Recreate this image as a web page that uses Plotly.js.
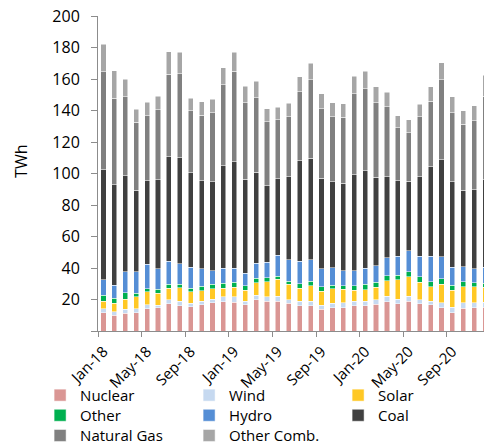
<!DOCTYPE html>
<html>
<head>
<meta charset="utf-8">
<script src="https://cdn.plot.ly/plotly-3.0.1.min.js"></script>
<style>html,body{margin:0;padding:0;background:#fff;overflow:hidden;}</style>
</head>
<body>
<div id="chart" style="width:484px;height:460px;"></div>
<script>
const months = ["Jan-18","Feb-18","Mar-18","Apr-18","May-18","Jun-18","Jul-18","Aug-18","Sep-18","Oct-18","Nov-18","Dec-18",
"Jan-19","Feb-19","Mar-19","Apr-19","May-19","Jun-19","Jul-19","Aug-19","Sep-19","Oct-19","Nov-19","Dec-19",
"Jan-20","Feb-20","Mar-20","Apr-20","May-20","Jun-20","Jul-20","Aug-20","Sep-20","Oct-20","Nov-20","Dec-20"];

const nuclear = [11.6,9.9,11.2,11.6,14.2,14.8,17.4,16.1,15.4,16.7,18.0,18.6,18.4,16.7,19.9,19.0,19.0,17.6,16.1,16.1,13.8,14.8,14.8,15.9,16.1,16.9,18.6,17.4,18.8,17.4,16.7,14.8,11.6,14.6,14.8,15.0];
const wind = [2.6,2.4,2.6,2.4,2.5,1.7,2.3,2.9,2.2,2.1,2.3,3.0,3.2,2.1,2.7,2.6,3.2,2.1,2.7,2.7,2.5,2.8,3.0,2.9,2.9,3.0,3.4,2.9,3.2,2.5,2.1,3.2,3.4,3.2,3.2,3.4];
const solar = [4.8,5.3,6.5,7.8,8.1,7.6,7.4,8.5,7.2,6.8,6.4,5.5,6.3,7.0,7.9,9.7,10.8,9.9,8.3,10.0,9.1,9.1,8.7,7.2,7.2,8.0,10.0,12.1,12.3,11.2,9.3,11.8,11.0,10.3,10.1,9.3];
const other = [3.6,3.1,4.0,2.1,2.1,2.4,2.5,2.3,2.3,2.8,2.9,3.2,3.2,3.0,2.9,2.6,1.9,2.1,3.0,2.9,2.7,2.5,2.3,2.8,3.4,3.2,3.1,2.9,3.2,3.4,3.2,3.4,3.2,3.2,2.6,2.6];
const hydro = [9.8,8.5,13.2,13.8,15.6,13.1,14.8,13.0,13.5,11.0,8.5,9.7,8.9,8.0,9.6,9.9,13.1,13.4,14.3,13.4,11.5,11.0,9.5,9.5,10.4,10.2,11.5,12.3,13.3,13.1,16.3,14.0,11.2,9.5,8.7,10.1];
const coal = [70.0,63.7,61.1,51.8,52.9,56.3,66.3,67.3,59.9,56.0,56.7,64.8,67.5,59.7,57.7,48.5,48.7,52.9,63.7,64.5,57.5,54.6,55.5,61.0,61.8,56.3,51.4,47.8,44.4,50.4,56.7,61.4,54.4,48.7,50.3,55.5];
const naturalGas = [62.3,54.8,50.0,43.2,41.3,44.6,52.3,53.3,39.2,41.7,43.8,51.6,57.4,48.5,47.4,40.6,37.5,38.1,43.9,49.8,44.1,41.3,41.9,51.4,52.1,47.4,44.4,33.7,30.7,37.9,41.5,50.8,43.8,41.7,43.8,53.3];
const otherComb = [17.5,17.4,11.2,8.0,8.5,8.7,14.4,13.5,8.0,8.3,8.5,10.8,12.2,10.3,10.4,8.3,7.8,8.5,9.3,10.5,9.5,8.9,8.6,11.2,11.0,10.1,9.3,7.6,8.1,8.0,9.3,11.0,10.2,8.7,9.6,13.3];

const seriesNames = ["Nuclear","Wind","Solar","Other","Hydro","Coal","Natural Gas","Other Comb."];
const yTickVals = [0,20,40,60,80,100,120,140,160,180,200];
const yTickText = ["","20","40","60","80","100","120","140","160","180","200"];
const xLabelMonths = ["Jan-18","May-18","Sep-18","Jan-19","May-19","Sep-19","Jan-20","May-20","Sep-20"];
const yTitle = "TWh";

const seriesValues = [nuclear, wind, solar, other, hydro, coal, naturalGas, otherComb];
const colors = ["#DA9694","#C6D9F0","#FFC825","#00B050","#558ED5","#404040","#808080","#A6A6A6"];
// one horizontal legend per row: row1 Nuclear/Wind/Solar, row2 Other/Hydro/Coal, row3 Natural Gas/Other Comb.
const legendOf = ["legend","legend","legend","legend2","legend2","legend2","legend3","legend3"];

const xIdx = months.map((m, i) => i);
const traces = seriesValues.map((vals, k) => ({
  type: "bar",
  name: seriesNames[k],
  x: xIdx,
  y: vals,
  marker: {color: colors[k], line: {color: "#ffffff", width: 0.5}},
  legend: legendOf[k],
  hoverinfo: "skip"
}));

const FONT = "'Open Sans', 'Liberation Sans', Arial, sans-serif";
const labelIdx = xLabelMonths.map(m => months.indexOf(m));
const legendBase = {
  orientation: "h", xanchor: "left", yanchor: "top", x: -0.150,
  entrywidth: 104, entrywidthmode: "pixels",
  font: {family: FONT, size: 15, color: "#000"},
  bgcolor: "rgba(0,0,0,0)", traceorder: "normal"
};

const layout = {
  width: 484, height: 460,
  margin: {l: 98, r: 0, t: 16, b: 129, autoexpand: false},
  paper_bgcolor: "#ffffff", plot_bgcolor: "#ffffff",
  font: {family: FONT, size: 15, color: "#000"},
  barmode: "stack",
  bargap: 0.53,
  showlegend: true,
  xaxis: {
    range: [-0.5, 34.9],
    tickmode: "array",
    tickvals: labelIdx,
    ticktext: xLabelMonths,
    ticks: "",
    tickangle: -45,
    ticklabelstandoff: 5,
    automargin: false,
    showgrid: false, zeroline: false,
    showline: true, linecolor: "#8C8C8C", linewidth: 1,
    tickfont: {family: FONT, size: 15, color: "#000"}
  },
  xaxis2: {
    overlaying: "x", matches: "x", side: "bottom",
    range: [-0.5, 34.9],
    tickmode: "array",
    tickvals: labelIdx.map(i => i - 0.5),
    ticks: "outside", ticklen: 5, tickcolor: "#8C8C8C", tickwidth: 1,
    showticklabels: false, showgrid: false, zeroline: false, showline: false
  },
  yaxis: {
    range: [0, 200],
    tickmode: "array", tickvals: yTickVals, ticktext: yTickText,
    ticks: "outside", ticklen: 6, tickcolor: "#8C8C8C", tickwidth: 1,
    ticklabelstandoff: 8,
    automargin: false,
    showgrid: false, zeroline: false,
    showline: true, linecolor: "#8C8C8C", linewidth: 1,
    tickfont: {family: FONT, size: 16, color: "#000"}
  },
  annotations: [{
    text: yTitle, textangle: -90, showarrow: false,
    xref: "paper", yref: "paper", x: -0.1995, y: 0.54,
    xanchor: "center", yanchor: "middle",
    font: {family: FONT, size: 16, color: "#000"}
  }],
  legend: Object.assign({}, legendBase, {y: -0.152}),
  legend2: Object.assign({}, legendBase, {y: -0.2159}),
  legend3: Object.assign({}, legendBase, {y: -0.2800})
};

// invisible helper trace so that the boundary-tick axis is drawn
traces.push({type: "scatter", x: [0], y: [0], xaxis: "x2", mode: "markers",
  marker: {opacity: 0}, showlegend: false, hoverinfo: "skip"});

Plotly.newPlot("chart", traces, layout, {displayModeBar: false, staticPlot: true});
</script>
</body>
</html>
